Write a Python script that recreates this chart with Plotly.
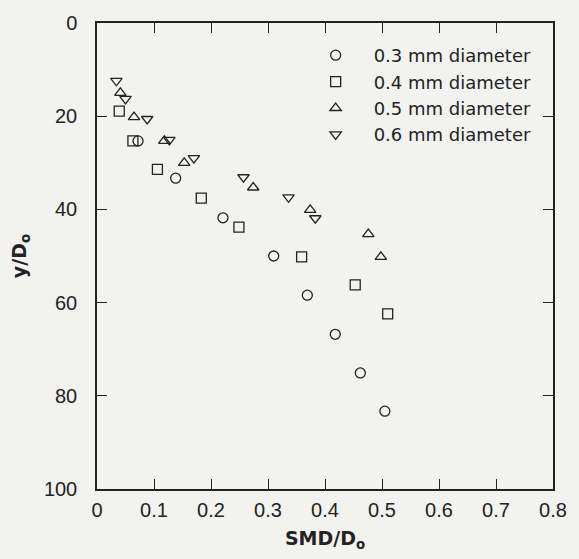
import plotly.graph_objects as go

# Data (SMD/Do vs y/Do)
x_03 = [0.072, 0.138, 0.221, 0.310, 0.369, 0.418, 0.462, 0.505]
y_03 = [25.3, 33.3, 41.8, 50.0, 58.4, 66.8, 75.1, 83.3]

x_04 = [0.039, 0.063, 0.106, 0.183, 0.249, 0.359, 0.453, 0.510]
y_04 = [18.9, 25.3, 31.4, 37.6, 43.8, 50.2, 56.2, 62.4]

x_05 = [0.041, 0.065, 0.118, 0.153, 0.274, 0.374, 0.476, 0.498]
y_05 = [15.0, 20.2, 25.3, 30.0, 35.3, 40.1, 45.3, 50.2]

x_06 = [0.034, 0.050, 0.088, 0.127, 0.170, 0.257, 0.336, 0.383]
y_06 = [12.4, 16.3, 20.6, 25.1, 29.0, 33.1, 37.4, 41.9]

names = ["0.3 mm diameter", "0.4 mm diameter", "0.5 mm diameter", "0.6 mm diameter"]
symbols = ["circle-open", "square-open", "triangle-up-open", "triangle-down-open"]

x_ticks = [0, 0.1, 0.2, 0.3, 0.4, 0.5, 0.6, 0.7, 0.8]
x_ticklabels = ["0", "0.1", "0.2", "0.3", "0.4", "0.5", "0.6", "0.7", "0.8"]
y_ticks = [0, 20, 40, 60, 80, 100]

ink = "#222222"
paper = "#f2f2f0"

fig = go.Figure()
for xs, ys, nm, sym in zip([x_03, x_04, x_05, x_06], [y_03, y_04, y_05, y_06], names, symbols):
    fig.add_trace(go.Scatter(
        x=xs, y=ys, mode="markers", name=nm,
        marker=dict(symbol=sym, size=10, color=ink, line=dict(width=1.3, color=ink)),
    ))

axis_common = dict(
    showgrid=False, zeroline=False, showline=True, linecolor=ink, linewidth=1.5,
    mirror="ticks", ticks="inside", ticklen=10, tickwidth=1.3, tickcolor=ink,
    tickfont=dict(family="Liberation Sans", size=20, color=ink),
)

fig.update_xaxes(
    range=[0, 0.8], tickvals=x_ticks, ticktext=x_ticklabels,
    title=dict(text="SMD/D<sub>o</sub>", standoff=12,
               font=dict(family="DejaVu Sans", size=19, color=ink, weight="bold")),
    ticklabelstandoff=2,
    **axis_common,
)
fig.update_yaxes(
    range=[100, 0], tickvals=y_ticks,
    title=dict(text="y/D<sub>o</sub>", standoff=12,
               font=dict(family="DejaVu Sans", size=19, color=ink, weight="bold")),
    ticklabelstandoff=14,
    **axis_common,
)

fig.update_layout(
    width=579, height=559,
    margin=dict(l=97, r=16, t=23, b=70),
    paper_bgcolor=paper, plot_bgcolor=paper,
    showlegend=True,
    legend=dict(
        x=0.44, y=0.97, xanchor="left", yanchor="top",
        bgcolor="rgba(0,0,0,0)", itemwidth=66,
        font=dict(family="DejaVu Sans", size=18, color=ink),
    ),
)

fig.write_html("out.html")
